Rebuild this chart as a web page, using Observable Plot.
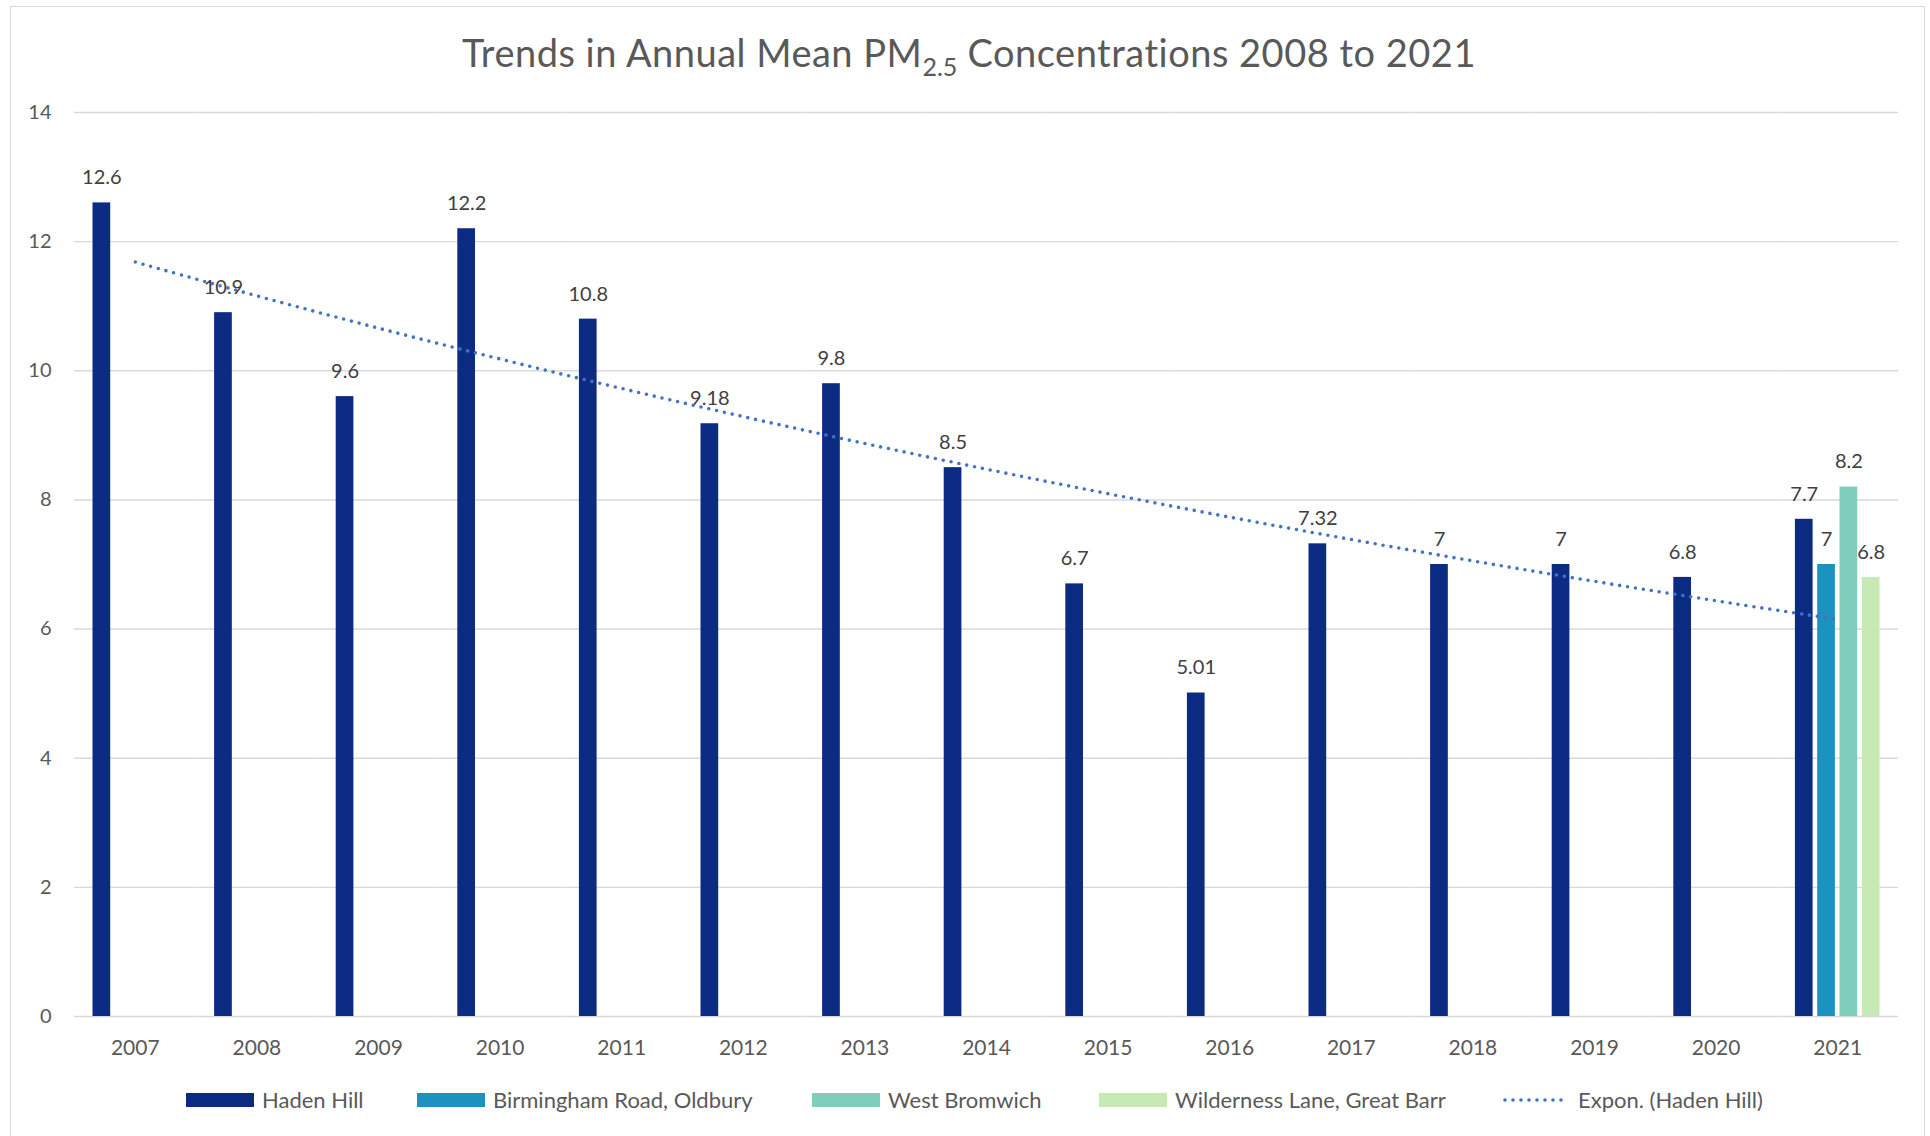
<!DOCTYPE html>
<html><head><meta charset="utf-8">
<script src="https://cdn.jsdelivr.net/npm/d3@7"></script>
<script src="https://cdn.jsdelivr.net/npm/@observablehq/plot@0.6"></script>
<style>
html,body{margin:0;padding:0;background:#fff;}
#chart{position:relative;width:1930px;height:1136px;font-family:Lato,sans-serif;color:#595959;overflow:hidden;background:#fff}
#frame{position:absolute;left:10px;top:6px;width:1915px;height:1140px;border:1px solid #d9d9d9;box-sizing:border-box}
#title{position:absolute;left:4px;width:1930px;top:29px;line-height:46px;text-align:center;font-size:38px;letter-spacing:0.5px;white-space:nowrap}
#title sub{font-size:25px;vertical-align:baseline;position:relative;top:9px;line-height:0;letter-spacing:0}
.layer{position:absolute;left:0;top:80px}
#trend{pointer-events:none}
.lg{position:absolute;top:1086px;height:27px;display:flex;align-items:center;font-size:22px;white-space:nowrap}
.sw{width:68px;height:14px;margin-right:8px;flex:none}
</style>
</head><body>
<div id="chart">
  <div id="frame"></div>
  <div id="title">Trends in Annual Mean PM<sub>2.5</sub> Concentrations 2008 to 2021</div>
  <div id="bars" class="layer"></div>
  <div id="trend" class="layer"></div>
  <div id="legend"></div>
</div>
<script>
// ---- data ----
const years = ["2007","2008","2009","2010","2011","2012","2013","2014","2015","2016","2017","2018","2019","2020","2021"];
const seriesNames = ["Haden Hill","Birmingham Road, Oldbury","West Bromwich","Wilderness Lane, Great Barr"];
const seriesColors = ["#0c2c84","#1d91c0","#7fcdbb","#c7e9b4"];
const hadenHill = [12.6,10.9,9.6,12.2,10.8,9.18,9.8,8.5,6.7,5.01,7.32,7,7,6.8,7.7];
const otherSitesYears = ["2021"];
const birminghamRoadOldbury = [7];
const westBromwich = [8.2];
const wildernessLaneGreatBarr = [6.8];
const yTicks = [0,2,4,6,8,10,12,14];
const trendName = "Expon. (Haden Hill)";
const trendColor = "#4472c4";

// ---- table ----
const rows = [];
years.forEach((y,i)=>rows.push({year:y, series:seriesNames[0], value:hadenHill[i]}));
[birminghamRoadOldbury, westBromwich, wildernessLaneGreatBarr].forEach((arr,k)=>{
  otherSitesYears.forEach((y,i)=>rows.push({year:y, series:seriesNames[k+1], value:arr[i]}));
});

// exponential trendline (least squares on ln values, like Excel)
const idx = years.map((_,i)=>i);
const lnv = hadenHill.map(Math.log);
const mx = d3.mean(idx), my = d3.mean(lnv);
const b = d3.sum(idx.map((x,i)=>(x-mx)*(lnv[i]-my))) / d3.sum(idx.map(x=>(x-mx)**2));
const a = my - b*mx;
const trend = years.map((y,i)=>({pos:idx[i], value:Math.exp(a + b*idx[i])}));

const W = 1930, H = 986, M = {top:32, right:32, bottom:50, left:74};

const barsPlot = Plot.plot({
  width: W, height: H,
  marginTop: M.top, marginRight: M.right, marginBottom: M.bottom, marginLeft: M.left,
  style: {fontFamily: "Lato, sans-serif", color: "#595959", background: "transparent", overflow: "visible"},
  fx: {domain: years, paddingInner: 0, paddingOuter: 0, round: false, label: null},
  x: {domain: seriesNames, paddingInner: 0.206, paddingOuter: 0.83, round: false, axis: null},
  y: {domain: [0,14], label: null},
  color: {domain: seriesNames, range: seriesColors},
  marks: [
    Plot.ruleY(yTicks, {stroke: "#d9d9d9", strokeWidth: 1.4}),
    Plot.barY(rows, {fx: "year", x: "series", y: "value", fill: "series"}),
    Plot.text(rows, {fx: "year", x: "series", y: "value", text: d => String(d.value), dy: -25, fontSize: 20, fill: "#404040"}),
    Plot.axisY({ticks: yTicks, tickSize: 0, tickPadding: 23, fontSize: 20, label: null}),
    Plot.axisFx({anchor: "bottom", tickSize: 0, tickPadding: 24, fontSize: 21, label: null})
  ]
});
document.getElementById("bars").appendChild(barsPlot);

const trendPlot = Plot.plot({
  width: W, height: H,
  marginTop: M.top, marginRight: M.right, marginBottom: M.bottom, marginLeft: M.left,
  style: {background: "transparent"},
  x: {type: "linear", domain: [-0.5, years.length - 0.5], axis: null},
  y: {domain: [0,14], axis: null},
  marks: [
    Plot.line(trend, {x: "pos", y: "value", stroke: trendColor, strokeWidth: 3.6, strokeDasharray: "0 8", strokeLinecap: "round", curve: "catmull-rom"})
  ]
});
document.getElementById("trend").appendChild(trendPlot);

// ---- legend ----
const legendLeft = [186, 417, 812, 1099, 1502];
const lg = document.getElementById("legend");
seriesNames.concat([trendName]).forEach((name,i)=>{
  const item = document.createElement("div");
  item.className = "lg";
  item.style.left = legendLeft[i] + "px";
  if (i < seriesNames.length) {
    item.innerHTML = `<div class="sw" style="background:${seriesColors[i]}"></div><span>${name}</span>`;
  } else {
    item.innerHTML = `<svg class="sw" width="68" height="14"><line x1="3" x2="66" y1="7" y2="7" stroke="${trendColor}" stroke-width="3.6" stroke-dasharray="0 8" stroke-linecap="round"/></svg><span>${name}</span>`;
  }
  lg.appendChild(item);
});
</script>
</body></html>
